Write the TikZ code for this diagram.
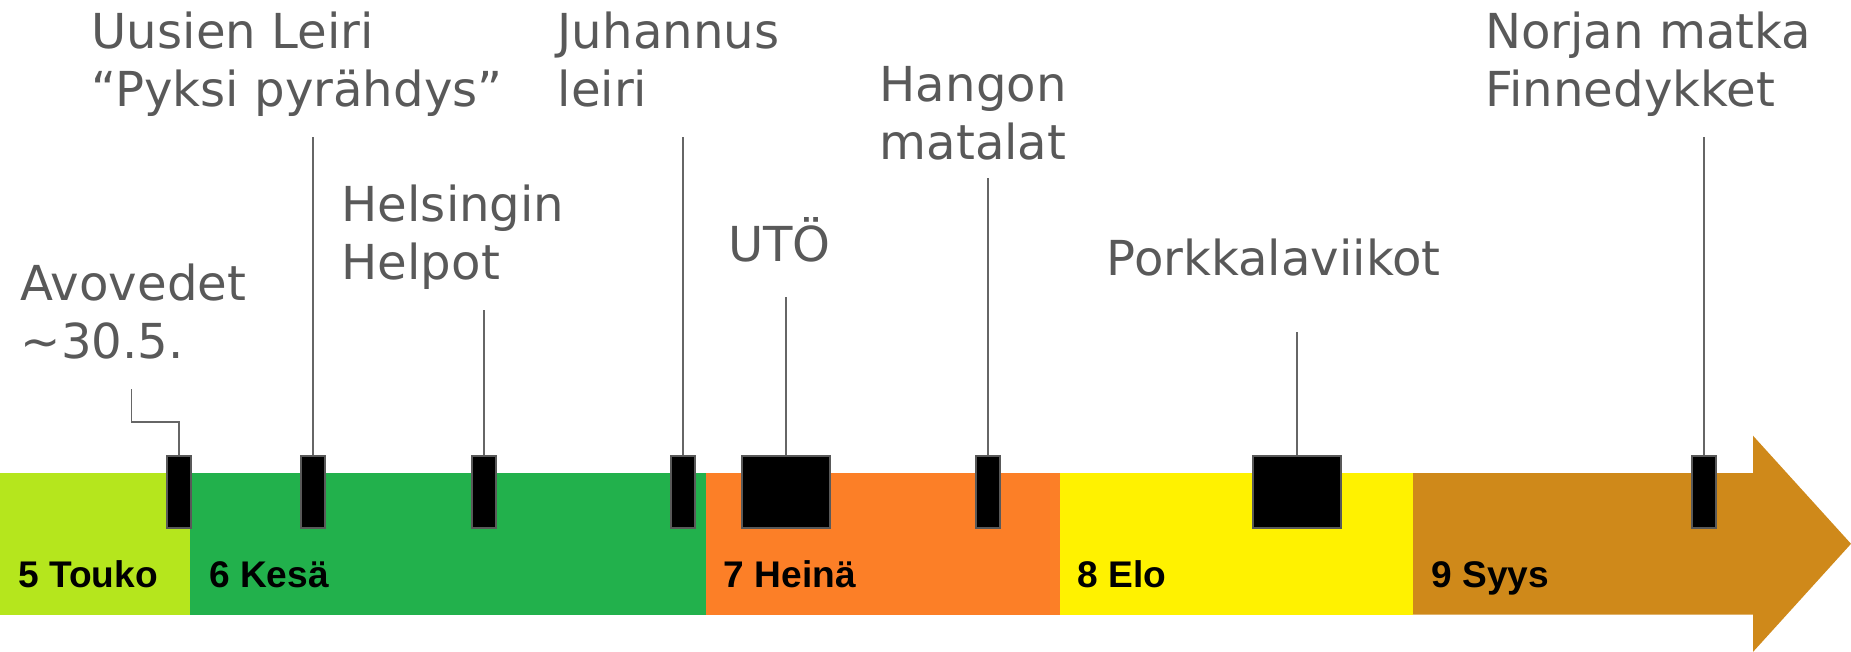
\documentclass[tikz,border=0pt]{standalone}
\usepackage{fontspec}
\setmainfont{DejaVu Sans}
\newfontfamily\monthfont{Liberation Sans}
\definecolor{cMay}{HTML}{B5E61D}
\definecolor{cJun}{HTML}{22B14C}
\definecolor{cJul}{HTML}{FC7F27}
\definecolor{cAug}{HTML}{FFF200}
\definecolor{cSep}{HTML}{CF891A}
\definecolor{txtgray}{HTML}{595959}
\definecolor{linegray}{HTML}{666666}
\begin{document}
\begin{tikzpicture}[x=0.01cm,y=-0.01cm,
  lbl/.style={anchor=base west, inner sep=0pt, align=left, text=txtgray,
    font=\fontsize{13.7}{16.4}\selectfont},
  mon/.style={anchor=base west, inner sep=0pt,
    font=\monthfont\bfseries\fontsize{10.55}{12}\selectfont},
  evbox/.style={draw=txtgray, line width=0.45pt, fill=black, inner sep=0pt,
    minimum height=20.49pt, minimum width=6.83pt},
  evwide/.style={evbox, minimum width=25.04pt},
  conn/.style={draw=linegray, line width=0.45pt}]
\useasboundingbox (0,0) rectangle (1851,651);
% timeline bar
\fill[cMay] (0,473) rectangle (190,614.7);
\fill[cJun] (190,473) rectangle (706,614.7);
\fill[cJul] (706,473) rectangle (1060,614.7);
\fill[cAug] (1060,473) rectangle (1413,614.7);
\fill[cSep] (1413,473) -- (1753,473) -- (1753,435.7) -- (1851,543.8)
  -- (1753,651.9) -- (1753,614.7) -- (1413,614.7) -- cycle;
% month labels
\node[mon] (may) at (17.5,587.3) {5 Touko};
\node[mon] (jun) at (208.5,587.3) {6 Kesä};
\node[mon] (jul) at (723,587.3) {7 Heinä};
\node[mon] (aug) at (1077,587.3) {8 Elo};
\node[mon] (sep) at (1431,587.3) {9 Syys};
% event markers
\node[evbox] (m1) at (179,492) {};
\node[evbox] (m2) at (313,492) {};
\node[evbox] (m3) at (484,492) {};
\node[evbox] (m4) at (683,492) {};
\node[evwide] (m5) at (786,492) {};
\node[evbox] (m6) at (988,492) {};
\node[evwide] (m7) at (1297,492) {};
\node[evbox] (m8) at (1704,492) {};
% connector ends
\coordinate (c1) at (131.7,389.3);
\coordinate (c2) at (313,136.7);
\coordinate (c3) at (484,310);
\coordinate (c4) at (683,136.7);
\coordinate (c5) at (786,296.7);
\coordinate (c6) at (988,178.3);
\coordinate (c7) at (1297,331.7);
\coordinate (c8) at (1704,136.7);
\draw[conn] (m1.north) -- ++(0,-33.3) -| (c1);
\draw[conn] (m2.north) -- (c2);
\draw[conn] (m3.north) -- (c3);
\draw[conn] (m4.north) -- (c4);
\draw[conn] (m5.north) -- (c5);
\draw[conn] (m6.north) -- (c6);
\draw[conn] (m7.north) -- (c7);
\draw[conn] (m8.north) -- (c8);
% event labels (anchor = baseline of last line)
\node[lbl] (t1) at (20,358.3) {Avovedet\\\textasciitilde30.5.};
\node[lbl] (t2) at (91,106.5) {Uusien Leiri\\“Pyksi pyrähdys”};
\node[lbl] (t3) at (341,279) {Helsingin\\Helpot};
\node[lbl] (t4) at (557,106.5) {Juhannus\\leiri};
\node[lbl] (t5) at (727.5,261.7) {UTÖ};
\node[lbl] (t6) at (879,159.3) {Hangon\\matalat};
\node[lbl] (t7) at (1106,275) {Porkkalaviikot};
\node[lbl] (t8) at (1484.5,106.5) {Norjan matka\\Finnedykket};
\end{tikzpicture}
\end{document}
